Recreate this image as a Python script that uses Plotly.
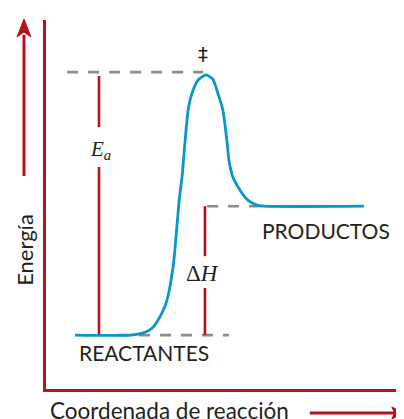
import plotly.graph_objects as go

# perfil de energía (coordenada de reacción, energía relativa)
coord = [8.1, 23.5, 27.7, 29.9, 32.4, 33.8, 35.5, 36.0, 37.2, 38.0, 38.8, 39.7, 40.8, 42.5, 44.7,
         46.6, 48.0, 49.4, 50.6, 51.1, 52.2, 54.2, 56.4, 58.9, 60.9, 88.8]
energia = [0, 0, 1.1, 3.0, 8.4, 13.3, 25.9, 32.3, 51.3, 60.1, 73.0, 85.6, 92.0, 97.0, 98.9,
           97.3, 92.0, 85.6, 73.0, 66.5, 60.1, 55.1, 51.3, 49.4, 49.0, 49.0]

E_reactantes = 0
E_ts = 100
E_productos = 49

ROJO = '#b5121b'
AZUL = '#0a96c8'
GRIS = '#8c8c8c'
TEXTO = '#231f20'
FUENTE = 'Lato'

fig = go.Figure()

# niveles (líneas discontinuas)
def nivel(x0, x1, e):
  fig.add_trace(go.Scatter(x=[x0, x1], y=[e, e], mode='lines',
                           line=dict(color=GRIS, width=2.6, dash='11px,10px'),
                           hoverinfo='skip', showlegend=False))

nivel(5.9, 43.9, E_ts)
nivel(45.0, 59.2, E_productos)
nivel(20.1, 51.1, E_reactantes)

# flechas de Ea y dH
def barra(x, e0, e1):
  fig.add_trace(go.Scatter(x=[x, x], y=[e0, e1], mode='lines',
                           line=dict(color=ROJO, width=2.6),
                           hoverinfo='skip', showlegend=False))

barra(14.8, E_reactantes, 63.9)
barra(14.8, 79.1, E_ts - 1.5)
barra(44.4, E_reactantes, 17.9)
barra(44.4, 30.0, E_productos)

fig.add_trace(go.Scatter(x=coord, y=energia, mode='lines', line_shape='spline',
                         line=dict(color=AZUL, width=2.8, smoothing=0.6),
                         hoverinfo='skip', showlegend=False))

anot = [
  dict(x=43.9, y=106.8, text='‡', font=dict(size=20, family='DejaVu Sans', color=TEXTO)),
  dict(x=15.1, y=70.3, text='<i>E</i><sub><i>a</i></sub>',
       font=dict(size=21, family='Liberation Serif', color=TEXTO)),
  dict(x=43.6, y=23.6, text='Δ<i>H</i>', font=dict(size=23, family='Liberation Serif', color=TEXTO)),
  dict(x=78.1, y=39.9, text='PRODUCTOS', font=dict(size=21, family=FUENTE, color=TEXTO)),
  dict(x=27.4, y=-6.5, text='REACTANTES', font=dict(size=21, family=FUENTE, color=TEXTO)),
]
for a in anot:
  fig.add_annotation(xref='x', yref='y', showarrow=False, **a)

fig.add_annotation(xref='paper', yref='paper', x=-0.0587, y=0.377, xanchor='center', yanchor='middle',
                   text='Energía', textangle=-90, showarrow=False,
                   font=dict(size=22, family=FUENTE, color=TEXTO))
fig.add_annotation(xref='paper', yref='paper', x=0.0056, y=-0.057, xanchor='left', yanchor='middle',
                   text='Coordenada de reacción', showarrow=False,
                   font=dict(size=22.5, family=FUENTE, color=TEXTO))

# flechas de los ejes
fig.add_shape(type='line', xref='paper', yref='paper', x0=-0.0615, x1=-0.0615, y0=0.577, y1=0.96,
              line=dict(color=ROJO, width=3))
fig.add_shape(type='path', xref='paper', yref='paper', fillcolor=ROJO, line=dict(color=ROJO, width=1),
              path='M -0.0615,1.0027 L -0.081,0.9539 L -0.0615,0.9675 L -0.042,0.9539 Z')
fig.add_shape(type='line', xref='paper', yref='paper', x0=0.737, x1=0.98, y0=-0.065, y1=-0.065,
              line=dict(color=ROJO, width=3))
fig.add_shape(type='path', xref='paper', yref='paper', fillcolor=ROJO, line=dict(color=ROJO, width=1),
              path='M 1.0,-0.065 L 0.966,-0.049 L 0.974,-0.065 L 0.966,-0.081 Z')

fig.update_xaxes(range=[0, 100], showline=True, linecolor=ROJO, linewidth=2.8, showgrid=False,
                 zeroline=False, showticklabels=False, ticks='')
fig.update_yaxes(range=[-20.5, 119.8], showline=True, linecolor=ROJO, linewidth=2.8, showgrid=False,
                 zeroline=False, showticklabels=False, ticks='')
# la página deja 8 px de margen en el body: la figura ocupa 396x411
fig.update_layout(width=396, height=411, margin=dict(l=38, r=0, t=12, b=30),
                  plot_bgcolor='white', paper_bgcolor='white')

fig.write_html("out.html")
